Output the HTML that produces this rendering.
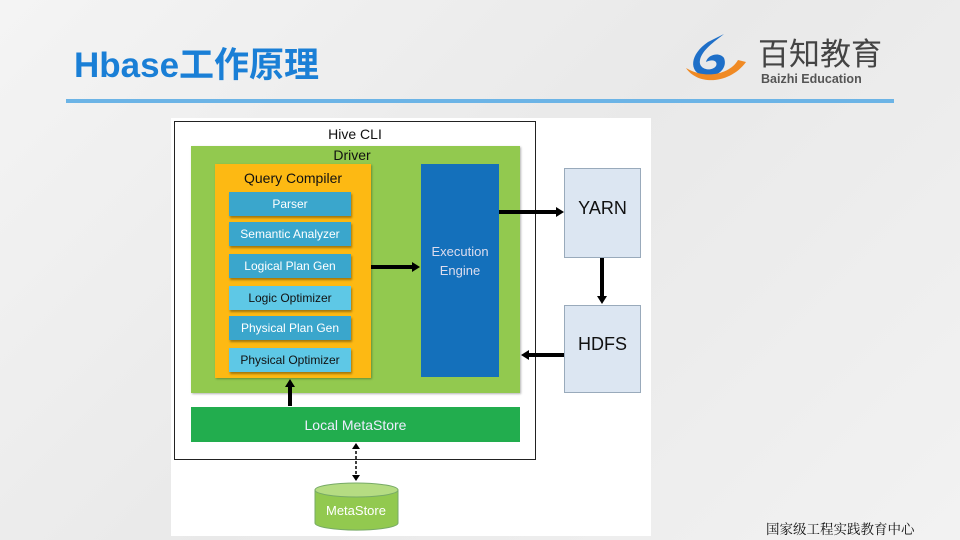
<!DOCTYPE html>
<html><head><meta charset="utf-8"><style>
body{margin:0;width:960px;height:540px;overflow:hidden;background:linear-gradient(135deg,#f4f4f4,#e9e9e9 50%,#f2f2f2);font-family:"Liberation Sans","Noto Sans CJK SC",sans-serif;position:relative}
.a{position:absolute;box-sizing:border-box}
.sb{position:absolute;left:229px;width:122px;height:24px;color:#fff;font-size:12px;text-align:center;line-height:24px;box-shadow:1px 2px 2px rgba(0,0,0,.35);background:#3aa6cc}
.c{display:flex;align-items:center;justify-content:center;text-align:center}
</style></head><body>
<div class="a" style="left:74px;top:44px;font-size:35px;font-weight:bold;color:#1a7fd6;line-height:44px">Hbase工作原理</div>
<div class="a" style="left:66px;top:99px;width:828px;height:4px;background:#6cb4e6"></div>
<svg class="a" style="left:684px;top:32px" width="66" height="52" viewBox="0 0 66 52">
<path d="M40 2 L24 10 C6 22 4 40 20 44 C34 46 44 36 40 26 C36 20 24 22 22 30 C30 26 34 30 32 34 C28 40 14 38 16 28 C18 18 30 10 40 2Z" fill="#1e6fc8"/>
<path d="M2 36 C14 54 46 52 62 30 L54 28 C46 42 22 48 2 36Z" fill="#f08a24"/>
</svg>
<div class="a" style="left:758px;top:38px;font-size:31px;color:#444;line-height:34px">百知教育</div>
<div class="a" style="left:761px;top:72px;font-size:12.5px;font-weight:bold;color:#555;line-height:14px">Baizhi Education</div>
<div class="a" style="left:171px;top:118px;width:480px;height:418px;background:#fff"></div>
<div class="a" style="left:174px;top:121px;width:362px;height:339px;border:1px solid #222"></div>
<div class="a" style="left:174px;top:126px;width:362px;text-align:center;font-size:14px;color:#111">Hive CLI</div>
<div class="a" style="left:191px;top:146px;width:329px;height:247px;background:#92c94f;box-shadow:1px 1px 2px rgba(0,0,0,.3)"></div>
<div class="a" style="left:191px;top:147px;width:322px;text-align:center;font-size:14px;color:#111">Driver</div>
<div class="a" style="left:215px;top:164px;width:156px;height:214px;background:#fdb913;box-shadow:1px 1px 2px rgba(0,0,0,.3)"></div>
<div class="a" style="left:215px;top:170px;width:156px;text-align:center;font-size:14px;color:#111">Query Compiler</div>
<div class="sb" style="top:192px">Parser</div>
<div class="sb" style="top:222px">Semantic Analyzer</div>
<div class="sb" style="top:254px">Logical Plan Gen</div>
<div class="sb" style="top:286px;background:#5ec8e6;color:#111">Logic Optimizer</div>
<div class="sb" style="top:316px">Physical Plan Gen</div>
<div class="sb" style="top:348px;background:#5ec8e6;color:#111">Physical Optimizer</div>
<div class="a c" style="left:421px;top:164px;width:78px;height:213px;background:#1470bb;color:#dde;font-size:13px;line-height:19px;padding-bottom:20px">Execution<br>Engine</div>
<div class="a c" style="left:564px;top:168px;width:77px;height:90px;background:#dce6f2;border:1px solid #9ab;font-size:18px;color:#111;padding-bottom:10px">YARN</div>
<div class="a c" style="left:564px;top:305px;width:77px;height:88px;background:#dce6f2;border:1px solid #9ab;font-size:18px;color:#111;padding-bottom:10px">HDFS</div>
<div class="a c" style="left:191px;top:407px;width:329px;height:35px;background:#22ad4e;color:#eef;font-size:14px">Local MetaStore</div>
<svg class="a" style="left:0;top:0" width="960" height="540">
<g stroke="#000" stroke-width="4" fill="none">
<line x1="499" y1="212" x2="558" y2="212"/>
<line x1="371" y1="267" x2="414" y2="267"/>
<line x1="602" y1="258" x2="602" y2="298"/>
<line x1="564" y1="355" x2="528" y2="355"/>
<line x1="290" y1="406" x2="290" y2="386"/>
</g>
<g fill="#000">
<path d="M556 207L564 212L556 217Z"/>
<path d="M412 262L420 267L412 272Z"/>
<path d="M597 296L602 304L607 296Z"/>
<path d="M529 350L521 355L529 360Z"/>
<path d="M285 387L290 379L295 387Z"/>
</g>
<line x1="356" y1="446" x2="356" y2="478" stroke="#000" stroke-width="1.5" stroke-dasharray="3 2"/>
<path d="M352 449L356 443L360 449Z M352 475L356 481L360 475Z" fill="#000"/>
<path d="M315 490 L315 523 A41 7 0 0 0 398 523 L398 490Z" fill="#92c94f" stroke="#7a6" />
<ellipse cx="356.5" cy="490" rx="41.5" ry="7" fill="#b5dc82" stroke="#7a6"/>
<text x="356" y="515" font-size="13" fill="#fff" text-anchor="middle" font-family="Liberation Sans,sans-serif">MetaStore</text>
</svg>
<div class="a" style="left:766px;top:518px;width:176px;font-size:13.5px;color:#111;font-family:'Liberation Serif','Noto Serif CJK SC',serif;white-space:nowrap">国家级工程实践教育中心</div>
</body></html>
